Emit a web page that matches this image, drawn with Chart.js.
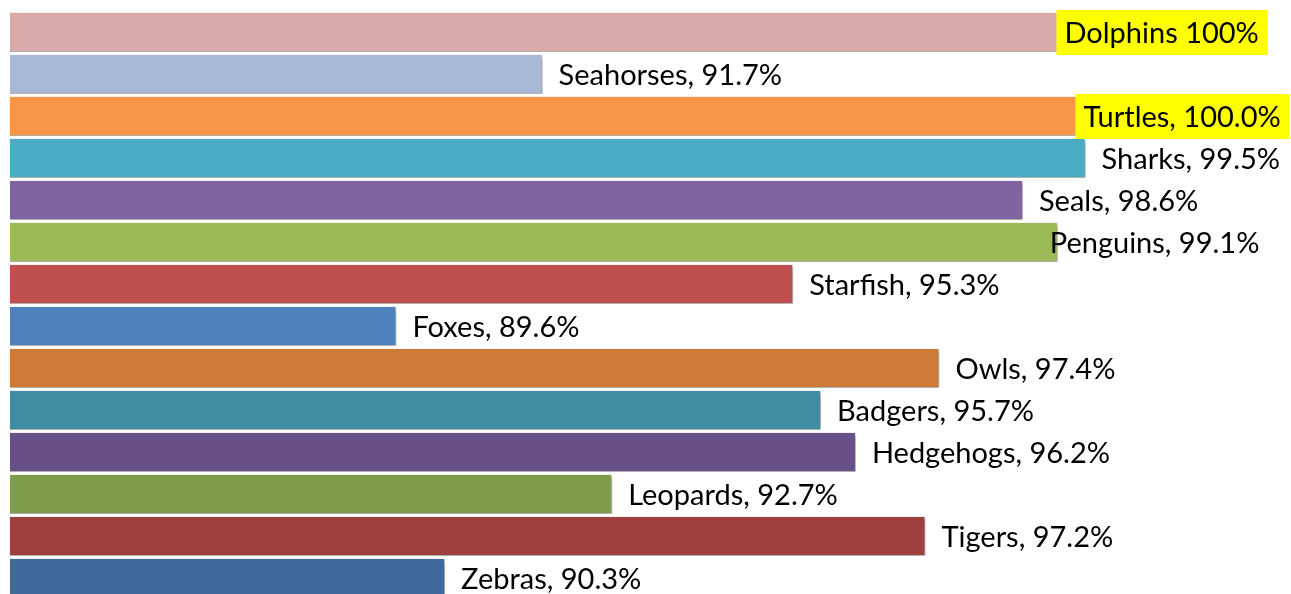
<!DOCTYPE html>
<html>
<head>
<meta charset="utf-8">
<script src="https://cdn.jsdelivr.net/npm/chart.js@4.4.1/dist/chart.umd.min.js"></script>
<style>
  html, body { margin: 0; padding: 0; background: #ffffff; overflow: hidden; }
  #caixa { position: relative; width: 1291px; height: 600px; }
</style>
</head>
<body>
<div id="caixa"><canvas id="grafico"></canvas></div>
<script>
// Dados do gráfico
var categorias = ["Dolphins", "Seahorses", "Turtles", "Sharks", "Seals", "Penguins", "Starfish",
  "Foxes", "Owls", "Badgers", "Hedgehogs", "Leopards", "Tigers", "Zebras"];
var valores = [100, 91.7, 100.0, 99.5, 98.6, 99.1, 95.3, 89.6, 97.4, 95.7, 96.2, 92.7, 97.2, 90.3];
var etiquetas = ["Dolphins 100%", "Seahorses, 91.7%", "Turtles, 100.0%", "Sharks, 99.5%",
  "Seals, 98.6%", "Penguins, 99.1%", "Starfish, 95.3%", "Foxes, 89.6%", "Owls, 97.4%",
  "Badgers, 95.7%", "Hedgehogs, 96.2%", "Leopards, 92.7%", "Tigers, 97.2%", "Zebras, 90.3%"];
var destaques = ["Dolphins", "Turtles"];

var cores = ["#D9A9A8", "#A9B8D6", "#F79646", "#4BACC6", "#8064A2", "#9BBB59", "#C0504D",
  "#4F81BD", "#CB7A38", "#3E8DA3", "#694F88", "#7E9C4A", "#9E403D", "#416A9C"];

// Deslocamento manual de algumas etiquetas (como no original)
var deslocamentos = { Dolphins: -56, Turtles: -37, Penguins: -8 };

// Plugin para a sombra das barras
var sombraBarras = {
  id: "sombraBarras",
  beforeDatasetsDraw: function (chart) {
    var ctx = chart.ctx;
    ctx.save();
    ctx.shadowColor = "rgba(0, 0, 0, 0.4)";
    ctx.shadowBlur = 4;
    ctx.shadowOffsetX = 2;
    ctx.shadowOffsetY = 2;
  },
  afterDatasetsDraw: function (chart) {
    chart.ctx.restore();
  },
};

// Plugin para as etiquetas de texto
var etiquetasBarras = {
  id: "etiquetasBarras",
  afterDatasetsDraw: function (chart) {
    var ctx = chart.ctx;
    var meta = chart.getDatasetMeta(0);
    ctx.save();
    ctx.font = "29px Lato";
    ctx.textBaseline = "middle";
    ctx.textAlign = "left";
    meta.data.forEach(function (barra, i) {
      var nome = categorias[i];
      var texto = etiquetas[i];
      var x = barra.x + 16;
      if (deslocamentos[nome] !== undefined) {
        x = barra.x + deslocamentos[nome];
      }
      var y = barra.y + 2;
      var largura = ctx.measureText(texto).width;
      if (destaques.indexOf(nome) >= 0) {
        ctx.fillStyle = "#FFFF00";
        ctx.fillRect(x - 8, barra.y - 22, largura + 17, 45);
      }
      ctx.fillStyle = "#000000";
      ctx.fillText(texto, x, y);
    });
    ctx.restore();
  },
};

var ctx = document.getElementById("grafico").getContext("2d");
var grafico = new Chart(ctx, {
  type: "bar",
  data: {
    labels: categorias,
    datasets: [
      {
        data: valores,
        backgroundColor: cores,
        borderColor: "rgba(255, 255, 255, 0.75)",
        borderWidth: 1,
        borderSkipped: false,
        barPercentage: 0.95,
        categoryPercentage: 1,
      },
    ],
  },
  options: {
    indexAxis: "y",
    responsive: true,
    maintainAspectRatio: false,
    animation: false,
    layout: { padding: { left: 10, right: 0, top: 11, bottom: 1 } },
    plugins: {
      legend: { display: false },
      tooltip: { enabled: false },
    },
    scales: {
      x: { display: false, min: 84.05, max: 102.45 },
      y: { display: false },
    },
  },
  plugins: [sombraBarras, etiquetasBarras],
});
</script>
</body>
</html>
